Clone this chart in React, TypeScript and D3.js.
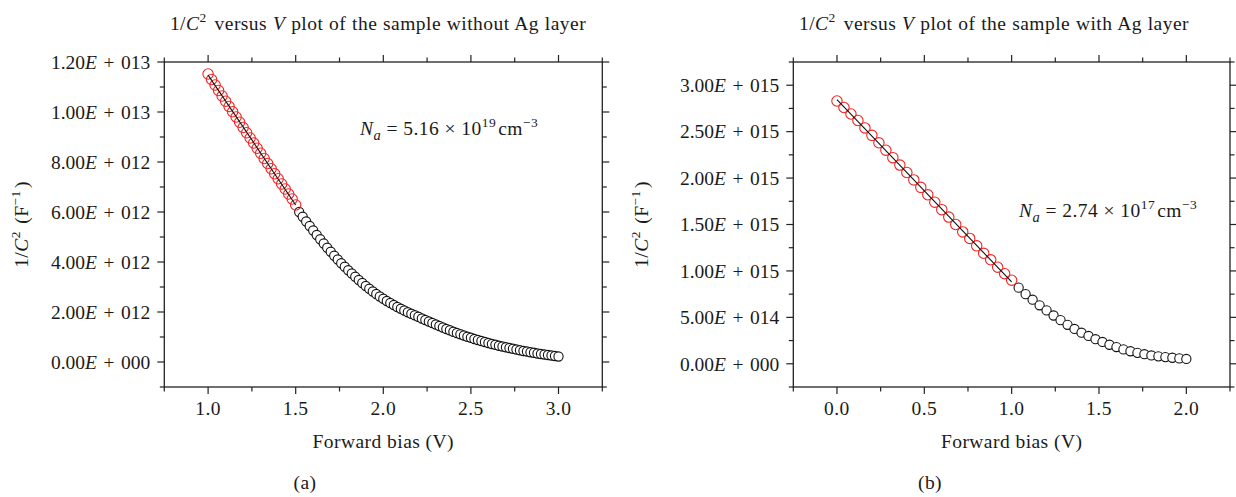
import * as d3 from "d3";

// panel (a): 1/C^2 in units of 1e12 F^-2, bias in V
const redA = [
  [1.0, 11.52], [1.02, 11.3], [1.04, 11.08], [1.06, 10.86], [1.08, 10.64], [1.1, 10.43],
  [1.12, 10.22], [1.14, 10.01], [1.16, 9.8], [1.18, 9.59], [1.2, 9.38], [1.22, 9.17],
  [1.24, 8.96], [1.26, 8.76], [1.28, 8.55], [1.3, 8.35], [1.32, 8.14], [1.34, 7.94],
  [1.36, 7.73], [1.38, 7.53], [1.4, 7.33], [1.42, 7.12], [1.44, 6.92], [1.46, 6.72],
  [1.48, 6.52], [1.5, 6.28],
];
const blackA = [
  [1.52, 6.0], [1.54, 5.81], [1.56, 5.62], [1.58, 5.44], [1.6, 5.26], [1.62, 5.08],
  [1.64, 4.91], [1.66, 4.74], [1.68, 4.57], [1.7, 4.41], [1.72, 4.25], [1.74, 4.1],
  [1.76, 3.95], [1.78, 3.81], [1.8, 3.67], [1.82, 3.54], [1.84, 3.41], [1.86, 3.28],
  [1.88, 3.16], [1.9, 3.04], [1.92, 2.93], [1.94, 2.82], [1.96, 2.72], [1.98, 2.62],
  [2.0, 2.53], [2.02, 2.44], [2.04, 2.36], [2.06, 2.28], [2.08, 2.2], [2.1, 2.13],
  [2.12, 2.06], [2.14, 1.99], [2.16, 1.93], [2.18, 1.87], [2.2, 1.81], [2.22, 1.74],
  [2.24, 1.68], [2.26, 1.62], [2.28, 1.56], [2.3, 1.5], [2.32, 1.44], [2.34, 1.38],
  [2.36, 1.32], [2.38, 1.27], [2.4, 1.21], [2.42, 1.16], [2.44, 1.11], [2.46, 1.06],
  [2.48, 1.01], [2.5, 0.97], [2.52, 0.92], [2.54, 0.88], [2.56, 0.84], [2.58, 0.8],
  [2.6, 0.76], [2.62, 0.72], [2.64, 0.69], [2.66, 0.65], [2.68, 0.62], [2.7, 0.59],
  [2.72, 0.56], [2.74, 0.53], [2.76, 0.5], [2.78, 0.47], [2.8, 0.44], [2.82, 0.42],
  [2.84, 0.39], [2.86, 0.37], [2.88, 0.34], [2.9, 0.32], [2.92, 0.3], [2.94, 0.28],
  [2.96, 0.26], [2.98, 0.24], [3.0, 0.22],
];

// panel (b): 1/C^2 in units of 1e15 F^-2
const redB = [
  [0.0, 2.83], [0.04, 2.76], [0.08, 2.69], [0.12, 2.62], [0.16, 2.54], [0.2, 2.46],
  [0.24, 2.38], [0.28, 2.3], [0.32, 2.22], [0.36, 2.14], [0.4, 2.06], [0.44, 1.98],
  [0.48, 1.9], [0.52, 1.82], [0.56, 1.74], [0.6, 1.66], [0.64, 1.58], [0.68, 1.5],
  [0.72, 1.42], [0.76, 1.35], [0.8, 1.27], [0.84, 1.19], [0.88, 1.12], [0.92, 1.04],
  [0.96, 0.97], [1.0, 0.9],
];
const blackB = [
  [1.04, 0.82], [1.08, 0.75], [1.12, 0.69], [1.16, 0.63], [1.2, 0.575], [1.24, 0.52],
  [1.28, 0.47], [1.32, 0.42], [1.36, 0.375], [1.4, 0.335], [1.44, 0.3], [1.48, 0.265],
  [1.52, 0.235], [1.56, 0.205], [1.6, 0.18], [1.64, 0.155], [1.68, 0.135], [1.72, 0.118],
  [1.76, 0.103], [1.8, 0.09], [1.84, 0.08], [1.88, 0.072], [1.92, 0.065], [1.96, 0.058],
  [2.0, 0.052],
];

const xMajorA = [1.0, 1.5, 2.0, 2.5, 3.0];
const xMinorA = [0.75, 1.25, 1.75, 2.25, 2.75, 3.25];
const yMajorA = [0, 2, 4, 6, 8, 10, 12];
const yMinorA = [-1, 1, 3, 5, 7, 9, 11];

const xMajorB = [0.0, 0.5, 1.0, 1.5, 2.0];
const xMinorB = [-0.25, 0.25, 0.75, 1.25, 1.75, 2.25];
const yMajorB = [0, 0.5, 1.0, 1.5, 2.0, 2.5, 3.0];
const yMinorB = [-0.25, 0.25, 0.75, 1.25, 1.75, 2.25, 2.75, 3.25];

const FONT = "'Liberation Serif', 'DejaVu Serif', serif";
const FS = 19.5;
const LS = 0.45;
const RED = "#f02424";

const sciLabel = (v: number) => {
  if (v === 0) return ["0.00", "000"];
  const [m, e] = v.toExponential(2).split("e");
  return [m, String(Math.abs(+e)).padStart(3, "0")];
};

const fitLine = (pts: number[][]) => {
  const mx = d3.mean(pts, (d) => d[0])!;
  const my = d3.mean(pts, (d) => d[1])!;
  const sxy = d3.sum(pts, (d) => (d[0] - mx) * (d[1] - my));
  const sxx = d3.sum(pts, (d) => (d[0] - mx) ** 2);
  const k = sxy / sxx;
  const [x0, x1] = d3.extent(pts, (d) => d[0]) as [number, number];
  return [
    [x0, my + k * (x0 - mx)],
    [x1, my + k * (x1 - mx)],
  ];
};

const Sup = ({ children }: any) => (
  <>
    <tspan dy={-8} fontSize={13.5}>{children}</tspan>
    <tspan dy={8}>{"\u200a"}</tspan>
  </>
);

const Panel = (props: any) => {
  const { frame, xDomain, yDomain, unit, red, black, xMajor, xMinor, yMajor, yMinor } = props;
  const x = d3.scaleLinear().domain(xDomain).range([frame.left, frame.right]);
  const y = d3.scaleLinear().domain(yDomain).range([frame.bottom, frame.top]);
  const line = d3
    .line<number[]>()
    .x((d) => x(d[0]))
    .y((d) => y(d[1]));
  const fit = fitLine(red);
  const cx = (frame.left + frame.right) / 2;
  const cy = (frame.top + frame.bottom) / 2;
  const MAJ = 7;
  const MIN = 4.5;

  return (
    <g fontFamily={FONT} fontSize={FS} fill="#1a1a1a">
      <rect
        x={frame.left}
        y={frame.top}
        width={frame.right - frame.left}
        height={frame.bottom - frame.top}
        fill="none"
        stroke="#222"
        strokeWidth={1.3}
      />
      {/* x ticks, bottom and top, pointing out */}
      {xMajor.map((t: number) => (
        <g key={"xM" + t} stroke="#222" strokeWidth={1.2}>
          <line x1={x(t)} x2={x(t)} y1={frame.bottom} y2={frame.bottom + MAJ} />
          <line x1={x(t)} x2={x(t)} y1={frame.top} y2={frame.top - MAJ} />
        </g>
      ))}
      {xMinor.map((t: number) => (
        <g key={"xm" + t} stroke="#222" strokeWidth={1.2}>
          <line x1={x(t)} x2={x(t)} y1={frame.bottom} y2={frame.bottom + MIN} />
          <line x1={x(t)} x2={x(t)} y1={frame.top} y2={frame.top - MIN} />
        </g>
      ))}
      {xMajor.map((t: number) => (
        <text key={"xl" + t} x={x(t)} y={frame.bottom + 28} textAnchor="middle" letterSpacing={LS}>
          {t.toFixed(1)}
        </text>
      ))}
      {/* y ticks, left and right, pointing out */}
      {yMajor.map((t: number) => (
        <g key={"yM" + t} stroke="#222" strokeWidth={1.2}>
          <line x1={frame.left} x2={frame.left - MAJ} y1={y(t)} y2={y(t)} />
          <line x1={frame.right} x2={frame.right + MAJ} y1={y(t)} y2={y(t)} />
        </g>
      ))}
      {yMinor.map((t: number) => (
        <g key={"ym" + t} stroke="#222" strokeWidth={1.2}>
          <line x1={frame.left} x2={frame.left - MIN} y1={y(t)} y2={y(t)} />
          <line x1={frame.right} x2={frame.right + MIN} y1={y(t)} y2={y(t)} />
        </g>
      ))}
      {yMajor.map((t: number) => {
        const [m, e] = sciLabel(t * unit);
        return (
          <text key={"yl" + t} x={frame.left - 14} y={y(t)} dy="0.35em" textAnchor="end">
            {m}
            <tspan fontStyle="italic">E</tspan>
            {"\u2004+\u2004" + e}
          </text>
        );
      })}

      {/* data */}
      {black.map((d: number[], i: number) => (
        <circle key={"b" + i} cx={x(d[0])} cy={y(d[1])} r={4.6} fill="#fff" stroke="#111" strokeWidth={1.1} />
      ))}
      {red.map((d: number[], i: number) => (
        <circle key={"r" + i} cx={x(d[0])} cy={y(d[1])} r={5.2} fill="none" stroke={RED} strokeWidth={1.1} />
      ))}
      <path d={line(fit) || ""} fill="none" stroke="#111" strokeWidth={1.1} />

      {/* titles */}
      <text x={props.titleX} y={30} textAnchor="middle" letterSpacing={LS} wordSpacing={0.5}>
        1/<tspan fontStyle="italic">C</tspan>
        <Sup>2</Sup>
        {" versus "}
        <tspan fontStyle="italic">V</tspan>
        {" plot of the sample " + props.titleTail}
      </text>
      <text x={cx} y={frame.bottom + 61} textAnchor="middle" letterSpacing={LS}>
        Forward bias (V)
      </text>
      <text x={props.tagX} y={489} textAnchor="middle" letterSpacing={LS}>
        {props.tag}
      </text>
      <text
        transform={`translate(${props.yTitleX},${cy}) rotate(-90)`}
        textAnchor="middle"
        letterSpacing={LS}
      >
        1/<tspan fontStyle="italic">C</tspan>
        <Sup>2</Sup>
        {" (F"}
        <Sup>{"\u22121"}</Sup>
        {")"}
      </text>
      <text x={props.noteX} y={props.noteY} letterSpacing={LS}>
        <tspan fontStyle="italic">N</tspan>
        <tspan fontStyle="italic" dy={5} fontSize={14.5}>a</tspan>
        <tspan dy={-5}>{" = " + props.note + " \u00d7 10"}</tspan>
        <Sup>{props.noteExp}</Sup>
        {"cm"}
        <Sup>{"\u22123"}</Sup>
      </text>
    </g>
  );
};

const App = () => {
  return (
    <svg
      width={1236}
      height={497}
      style={{ position: "absolute", left: 0, top: 0, background: "#fff" }}
    >
      <Panel
        frame={{ left: 164.3, right: 602.3, top: 62, bottom: 387 }}
        xDomain={[0.75, 3.25]}
        yDomain={[-1, 12]}
        unit={1e12}
        red={redA}
        black={blackA}
        xMajor={xMajorA}
        xMinor={xMinorA}
        yMajor={yMajorA}
        yMinor={yMinorA}
        titleX={378}
        titleTail="without Ag layer"
        tag="(a)"
        tagX={305}
        yTitleX={28}
        note="5.16"
        noteExp="19"
        noteX={360}
        noteY={135}
      />
      <Panel
        frame={{ left: 793.3, right: 1230, top: 62, bottom: 387 }}
        xDomain={[-0.25, 2.25]}
        yDomain={[-0.25, 3.25]}
        unit={1e15}
        red={redB}
        black={blackB}
        xMajor={xMajorB}
        xMinor={xMinorB}
        yMajor={yMajorB}
        yMinor={yMinorB}
        titleX={994}
        titleTail="with Ag layer"
        tag="(b)"
        tagX={930}
        yTitleX={648}
        note="2.74"
        noteExp="17"
        noteX={1019}
        noteY={217}
      />
    </svg>
  );
};

export default App;
